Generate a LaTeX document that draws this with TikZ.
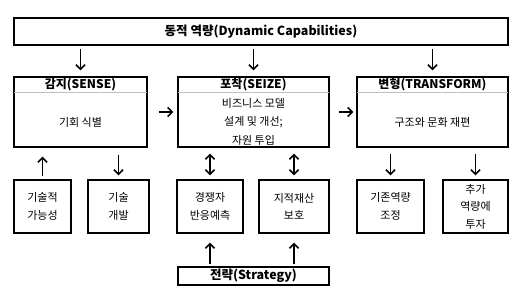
\documentclass[tikz,border=0pt]{standalone}
\usepackage{fontspec}
\setmainfont{Noto Sans CJK KR}
\usetikzlibrary{arrows.meta}
\begin{document}
\begin{tikzpicture}[x=1pt,y=-1pt,
  box/.style={draw=black, line width=1.4pt, inner sep=0pt, fill=white},
  sepline/.style={draw=black!25, line width=0.8pt},
  hdr/.style={font=\fontsize{12}{14}\selectfont\bfseries, inner sep=0pt},
  bodytxt/.style={font=\fontsize{11}{18.5}\selectfont, align=center, inner sep=0pt},
  smalltxt/.style={font=\fontsize{11}{17.5}\selectfont, align=center, inner sep=0pt},
  arr/.style={line width=1.6pt, -{Straight Barb[length=4.5pt,width=9pt]}},
  darr/.style={line width=1.6pt, {Straight Barb[length=4.5pt,width=9pt]}-{Straight Barb[length=4.5pt,width=9pt]}}
]
\useasboundingbox (0,0) rectangle (530,300);

% top box
\node[box, minimum width=494pt, minimum height=27pt] (top) at (261,31.5) {};
\node[font=\fontsize{12.5}{15}\selectfont\bfseries, inner sep=0pt] (toptxt) at (261,31.5) {동적 역량(Dynamic Capabilities)};

% three main boxes
\node[box, minimum width=133pt, minimum height=70pt] (sense) at (80.5,112) {};
\node[box, minimum width=151pt, minimum height=70pt] (seize) at (253.5,112) {};
\node[box, minimum width=151pt, minimum height=70pt] (trans) at (432.5,112) {};
\foreach \b in {sense,seize,trans}{
  \draw[sepline] ([xshift=1pt,yshift=-16pt]\b.north west) -- ([xshift=-1pt,yshift=-16pt]\b.north east);
}
\node[hdr] (senseh) at (80.5,85) {감지(SENSE)};
\node[hdr] (seizeh) at (253.5,85) {포착(SEIZE)};
\node[hdr] (transh) at (432.5,85) {변형(TRANSFORM)};
\node[bodytxt] (senseb) at (80.5,122) {기회 식별};
\node[bodytxt] (seizeb) at (253.5,121.5) {비즈니스 모델\\설계 및 개선;\\자원 투입};
\node[bodytxt] (transb) at (432.5,122) {구조와 문화 재편};

% bottom boxes
\node[box, minimum width=57pt, minimum height=53pt] (b1) at (42.5,206.5) {};
\node[box, minimum width=61pt, minimum height=53pt] (b2) at (118.5,206.5) {};
\node[box, minimum width=66pt, minimum height=53pt] (b3) at (210,206.5) {};
\node[box, minimum width=70pt, minimum height=53pt] (b4) at (294,206.5) {};
\node[box, minimum width=67pt, minimum height=53pt] (b5) at (390.5,206.5) {};
\node[box, minimum width=65pt, minimum height=53pt] (b6) at (475.5,206.5) {};
\node[smalltxt] (t1) at (b1) {기술적\\가능성};
\node[smalltxt] (t2) at (b2) {기술\\개발};
\node[smalltxt] (t3) at (b3) {경쟁자\\반응예측};
\node[smalltxt] (t4) at (b4) {지적재산\\보호};
\node[smalltxt] (t5) at (b5) {기존역량\\조정};
\node[smalltxt] (t6) at (b6) {추가\\역량에\\투자};

% strategy
\node[box, minimum width=151pt, minimum height=18pt] (strat) at (253.5,276) {};
\node[font=\fontsize{12.5}{15}\selectfont\bfseries, inner sep=0pt] (strattxt) at (253.5,276) {전략(Strategy)};

% arrows top -> main
\foreach \b in {sense,seize,trans}{
  \draw[arr, shorten <=3pt, shorten >=6pt] (top.south -| \b.north) -- (\b.north);
}
% horizontal arrows
\draw[arr, shorten <=11pt, shorten >=4pt] (sense.east) -- (seize.west);
\draw[arr, shorten <=9pt, shorten >=3pt] (seize.east) -- (trans.west);

% bottom arrows
\draw[arr, shorten <=3pt, shorten >=9pt] (b1.north) -- (b1.north |- sense.south);
\draw[arr, shorten <=7pt, shorten >=4pt] (b2.north |- sense.south) -- (b2.north);
\draw[darr, shorten <=6pt, shorten >=4pt] (b3.north |- seize.south) -- (b3.north);
\draw[darr, shorten <=6pt, shorten >=4pt] (b4.north |- seize.south) -- (b4.north);
\draw[arr, shorten <=6pt, shorten >=4pt] (b5.north |- trans.south) -- (b5.north);
\draw[arr, shorten <=6pt, shorten >=4pt] (b6.north |- trans.south) -- (b6.north);

% strategy arrows
\draw[arr, shorten <=2pt, shorten >=9pt] (strat.north -| b3.south) -- (b3.south);
\draw[arr, shorten <=2pt, shorten >=9pt] (strat.north -| b4.south) -- (b4.south);
\end{tikzpicture}
\end{document}
